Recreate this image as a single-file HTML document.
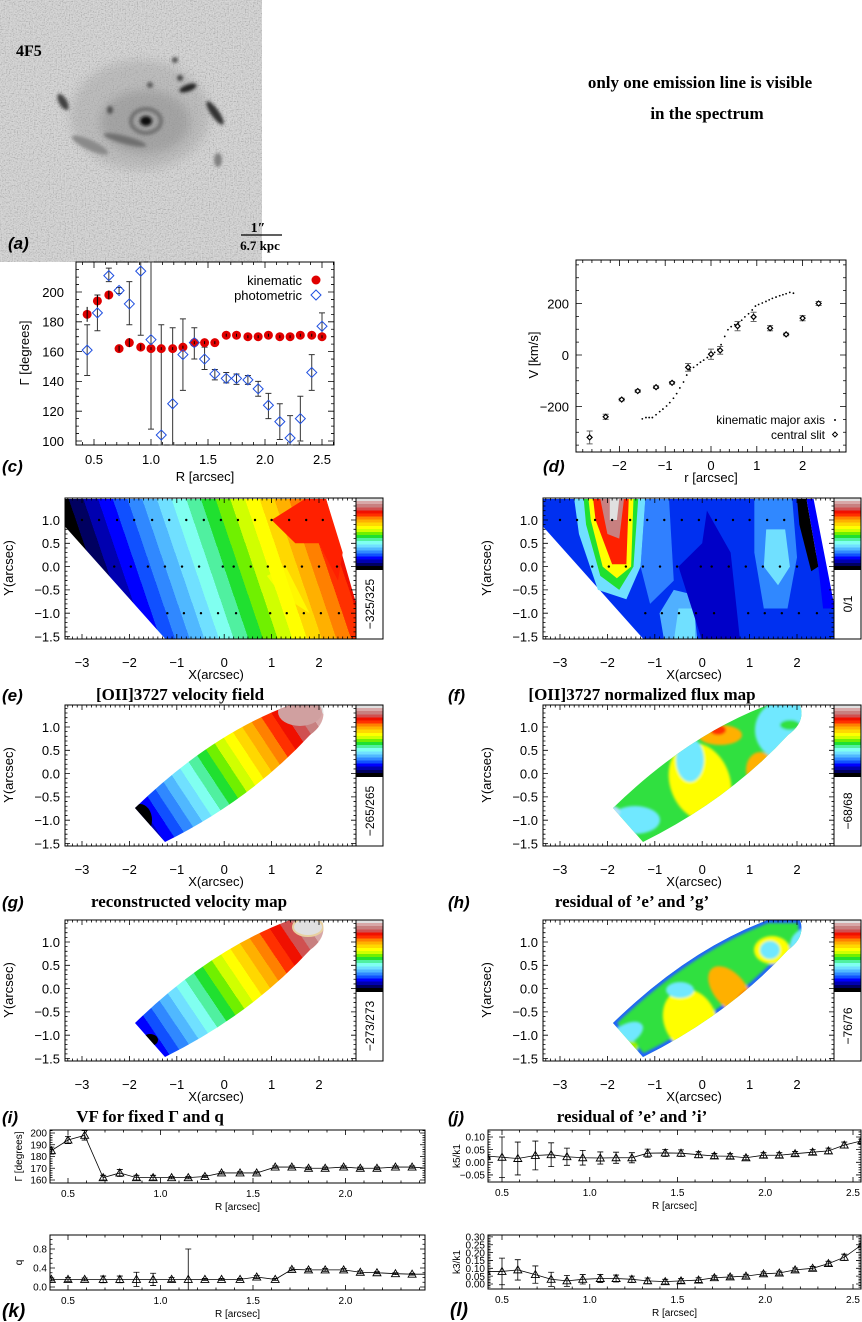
<!DOCTYPE html>
<html><head><meta charset="utf-8">
<style>
html,body{margin:0;padding:0;background:#fff;}
svg{display:block;}
text{font-family:"Liberation Sans",sans-serif;fill:#000;}
.ser{font-family:"Liberation Serif",serif;font-weight:bold;}
.lab{font-family:"Liberation Sans",sans-serif;font-weight:bold;font-style:italic;}
</style></head>
<body>
<svg id="fig" width="862" height="1322" viewBox="0 0 862 1322">
<defs>
<filter id="noise" x="0" y="0" width="100%" height="100%"><feTurbulence type="fractalNoise" baseFrequency="0.75" numOctaves="1" seed="3"/><feColorMatrix type="saturate" values="0"/><feComponentTransfer><feFuncR type="linear" slope="3.5" intercept="-1.25"/><feFuncG type="linear" slope="3.5" intercept="-1.25"/><feFuncB type="linear" slope="3.5" intercept="-1.25"/><feFuncA type="linear" slope="0" intercept="1"/></feComponentTransfer></filter>
<filter id="blur4"><feGaussianBlur stdDeviation="5"/></filter>
<filter id="blur2"><feGaussianBlur stdDeviation="1.6"/></filter>
<filter id="blur1"><feGaussianBlur stdDeviation="1.2"/></filter>
</defs>
</svg>
<script>
// ---------- data ----------
const cR = [0.44,0.53,0.63,0.72,0.81,0.91,1.00,1.09,1.19,1.28,1.38,1.47,1.56,1.66,1.75,1.85,1.94,2.03,2.13,2.22,2.31,2.41,2.50];
const cKin = [185,194,198,162,166,163,162,162,162,163,166,166,166,171,171,170,170,171,170,170,171,171,170];
const cKinErr = [5,4,3,2,3,2,1,1,1,1,1,1,1,1,1,1,1,1,1,1,1,1,1];
const cPhot = [161,186,211,201,192,214,168,104,125,158,166,155,145,142,142,141,135,124,113,102,115,146,177];
const cPhotLo = [144,174,207,199,178,171,108,90,90,134,155,148,141,139,138,138,130,115,101,95,100,134,170];
const cPhotHi = [178,198,216,203,207,230,230,178,176,182,176,163,148,146,145,144,140,132,125,117,130,158,186];

const dSlitR = [-2.65,-2.3,-1.95,-1.6,-1.2,-0.85,-0.5,0.0,0.2,0.58,0.93,1.29,1.64,2.0,2.35];
const dSlitV = [-320,-240,-173,-140,-125,-108,-48,3,18,112,148,104,80,143,200];
const dSlitErr = [25,10,5,5,5,5,15,20,15,18,18,10,5,10,8];
const dKinR = [-1.5,-1.42,-1.35,-1.28,-1.2,-1.12,-1.05,-0.97,-0.9,-0.82,-0.75,-0.68,-0.6,-0.53,-0.46,-0.38,-0.3,-0.23,-0.16,-0.08,0.0,0.08,0.15,0.22,0.3,0.37,0.44,0.52,0.6,0.67,0.74,0.82,0.9,0.97,1.04,1.12,1.2,1.27,1.34,1.42,1.5,1.57,1.64,1.72,1.8];
const dKinV = [-248,-243,-243,-243,-232,-220,-210,-198,-185,-168,-150,-128,-105,-78,-58,-48,-38,-28,-20,-10,0,10,22,40,72,98,110,118,125,135,148,160,175,190,196,202,208,214,220,225,230,234,238,243,240];

const bR = [0.41,0.50,0.59,0.69,0.78,0.87,0.96,1.06,1.15,1.24,1.33,1.43,1.52,1.62,1.71,1.80,1.89,1.99,2.08,2.17,2.27,2.36,2.45,2.55];
const kGam = [185,194,198,162,166,162,162,162,162,163,166,166,166,171,171,170,170,171,170,170,171,171,170,170];
const kGamErr = [3,3,4,2,3,2,2,1,1,1,1,1,1,1,1,1,1,1,1,1,1,1,1,1];
const kQ = [0.16,0.16,0.16,0.16,0.16,0.16,0.16,0.16,0.16,0.16,0.16,0.16,0.21,0.16,0.37,0.36,0.36,0.36,0.31,0.30,0.28,0.27,0.27,0.27];
const kQErr = [0.03,0.04,0.03,0.07,0.07,0.15,0.13,0.04,0.64,0.02,0.02,0.02,0.03,0.02,0.03,0.03,0.03,0.03,0.03,0.02,0.02,0.02,0.02,0.02];
const k5 = [0.025,0.02,0.015,0.027,0.03,0.022,0.018,0.017,0.018,0.018,0.036,0.037,0.036,0.03,0.025,0.024,0.018,0.028,0.028,0.034,0.04,0.045,0.068,0.085];
const k5Err = [0.005,0.08,0.065,0.057,0.047,0.034,0.029,0.024,0.022,0.02,0.016,0.014,0.013,0.012,0.01,0.01,0.008,0.01,0.01,0.009,0.01,0.011,0.012,0.01];
const k3 = [0.08,0.08,0.09,0.06,0.03,0.02,0.03,0.035,0.035,0.03,0.02,0.015,0.02,0.025,0.04,0.045,0.05,0.065,0.07,0.09,0.10,0.13,0.17,0.25];
const k3Err = [0.01,0.085,0.065,0.055,0.045,0.035,0.03,0.025,0.022,0.02,0.018,0.015,0.015,0.015,0.012,0.012,0.012,0.012,0.012,0.012,0.012,0.015,0.02,0.01];

const mapRow1X = [-3.0,-2.64,-2.26,-1.9,-1.52,-1.16,-0.8,-0.43,-0.07,0.29,0.65,1.0,1.37,1.73,2.08];
const mapRow0X = [-2.32,-1.97,-1.61,-1.25,-0.89,-0.53,-0.03,0.2,0.56,0.92,1.28,1.64,2.0,2.38];
const mapRowM1X = [-1.2,-0.85,-0.49,-0.13,0.25,0.97,1.32,1.68,2.04,2.42];
const mapXTicks = [-3,-2,-1,0,1,2];
const mapYTicks = [-1.5,-1.0,-0.5,0.0,0.5,1.0];

// ---------- helpers ----------
const svg = document.getElementById('fig');
const NS = svg.namespaceURI;
function mk(tag, attrs, parent){ const e=document.createElementNS(NS,tag); for(const k in attrs) e.setAttribute(k,attrs[k]); (parent||svg).appendChild(e); return e; }
function tx(x,y,s,attrs,parent){ const e=mk('text',Object.assign({x:x,y:y},attrs||{}),parent); e.textContent=s; return e; }
function grp(name){ const g=mk('g',{});   return g; }

function axes(g,o){
  const {L,R,T,B,sx,sy}=o;
  mk('rect',{x:L,y:T,width:R-L,height:B-T,fill:'none',stroke:'#000','stroke-width':1},g);
  const ml=o.major||6, mn=o.minor||3;
  let d='';
  o.xmin.forEach(v=>{const x=sx(v); if(x>=L&&x<=R) d+=`M${x},${B}v${-mn}M${x},${T}v${mn}`;});
  o.ymin.forEach(v=>{const y=sy(v); if(y>=T&&y<=B) d+=`M${L},${y}h${mn}M${R},${y}h${-mn}`;});
  o.xt.forEach(v=>{const x=sx(v); d+=`M${x},${B}v${-ml}M${x},${T}v${ml}`;});
  o.yt.forEach(v=>{const y=sy(v); d+=`M${L},${y}h${ml}M${R},${y}h${-ml}`;});
  mk('path',{d:d,stroke:'#000','stroke-width':0.8,fill:'none'},g);
  const fs=o.fs||13;
  o.xt.forEach((v,i)=>{const t=tx(sx(v),o.xly,o.xl[i],{'font-size':fs,'text-anchor':'middle'},g);
     });
  o.yt.forEach((v,i)=>{const t=tx(o.ylx,sy(v)+fs*0.37,o.yl[i],{'font-size':fs,'text-anchor':'end'},g);
     });
}
function range(a,b,s){const r=[];for(let v=a;v<=b+1e-9;v+=s)r.push(+v.toFixed(4));return r;}

// ---------- panel a : galaxy image ----------
(function(){
  const g=grp('galaxy-image');
  mk('rect',{x:0,y:0,width:262,height:262,fill:'#d2d2d2'},g);
  mk('rect',{x:0,y:0,width:262,height:262,filter:'url(#noise)',opacity:0.14},g);
  const b=mk('g',{filter:'url(#blur4)'},g);
  mk('ellipse',{cx:140,cy:115,rx:70,ry:55,fill:'#a0a0a0',opacity:0.45},b);
  mk('ellipse',{cx:145,cy:122,rx:45,ry:32,fill:'#888',opacity:0.45},b);
  const b2=mk('g',{filter:'url(#blur2)'},g);
  mk('ellipse',{cx:146,cy:121,rx:6,ry:5,fill:'#101010'},b2);
  mk('ellipse',{cx:146,cy:121,rx:15,ry:12,fill:'none',stroke:'#5a5a5a',"stroke-width":4,opacity:0.7},b2);
  mk('ellipse',{cx:63,cy:102,rx:4,ry:9,fill:'#404040',transform:'rotate(-30 63 102)'},b2);
  mk('ellipse',{cx:188,cy:88,rx:9,ry:3.5,fill:'#202020',transform:'rotate(-20 188 88)'},b2);
  mk('ellipse',{cx:215,cy:113,rx:4,ry:14,fill:'#303030',transform:'rotate(-35 215 113)'},b2);
  mk('ellipse',{cx:175,cy:60,rx:3,ry:3,fill:'#505050'},b2);
  mk('ellipse',{cx:180,cy:78,rx:3,ry:3,fill:'#404040'},b2);
  mk('ellipse',{cx:110,cy:110,rx:3,ry:4,fill:'#505050'},b2);
  mk('ellipse',{cx:150,cy:85,rx:3,ry:3,fill:'#555'},b2);
  mk('ellipse',{cx:125,cy:140,rx:22,ry:4,fill:'#707070',transform:'rotate(15 125 140)'},b2);
  mk('ellipse',{cx:218,cy:160,rx:4,ry:7,fill:'#808080'},b2);
  mk('ellipse',{cx:90,cy:145,rx:20,ry:5,fill:'#8a8a8a',transform:'rotate(25 90 145)'},b2);
  const t=tx(16,56,'4F5',{'font-size':16,class:'ser'},g);
   
  const a=tx(8,249,'(a)',{'font-size':17,class:'lab'},g);
   
  mk('line',{x1:241,y1:235,x2:282,y2:235,stroke:'#000','stroke-width':1.2},g);
  tx(258,232,'1\u2033',{'font-size':14,class:'ser','text-anchor':'middle'},g);
  tx(260,250,'6.7 kpc',{'font-size':13,class:'ser','text-anchor':'middle'},g);
})();

// ---------- panel b : note ----------
(function(){
  const g=grp('panel-b-note');
  tx(700,88,'only one emission line is visible',{'font-size':17,class:'ser','text-anchor':'middle'},g);
  tx(707,119,'in the spectrum',{'font-size':17,class:'ser','text-anchor':'middle'},g);
})();

// ---------- panel c ----------
(function(){
  const g=grp('panel-c-position-angle');
  const L=76,R=334,T=262,B=445;
  const sx=v=>94+(v-0.5)*114, sy=v=>441-(v-100)*1.49;
  axes(g,{L,R,T,B,sx,sy,xt:[0.5,1.0,1.5,2.0,2.5],xl:['0.5','1.0','1.5','2.0','2.5'],yt:[100,120,140,160,180,200],yl:['100','120','140','160','180','200'],
    xmin:range(0.4,2.6,0.1),ymin:range(100,215,5),xly:464,ylx:64,fs:13});
  const cl=v=>Math.max(T,Math.min(B,v));
  cR.forEach((r,i)=>{
    const e=mk('line',{x1:sx(r),x2:sx(r),y1:cl(sy(cPhotLo[i])),y2:cl(sy(cPhotHi[i])),stroke:'#333','stroke-width':1},g);
     
    mk('path',{d:`M${sx(r)-3},${cl(sy(cPhotLo[i]))}h6M${sx(r)-3},${cl(sy(cPhotHi[i]))}h6`,stroke:'#333'},g);
  });
  cR.forEach((r,i)=>{
    const c=mk('circle',{cx:sx(r),cy:sy(cKin[i]),r:4.5,fill:'#e00000'},g);
     
    mk('line',{x1:sx(r),x2:sx(r),y1:sy(cKin[i]-cKinErr[i]),y2:sy(cKin[i]+cKinErr[i]),stroke:'#000','stroke-width':1},g);
  });
  cR.forEach((r,i)=>{
    const x=sx(r),y=sy(cPhot[i]);
    const p=mk('path',{d:`M${x},${y-5}L${x+5},${y}L${x},${y+5}L${x-5},${y}Z`,fill:'none',stroke:'#2050e0','stroke-width':1},g);
     
  });
  const l1=tx(302,285,'kinematic',{'font-size':13,'text-anchor':'end'},g);
   
  mk('circle',{cx:316,cy:280,r:4.5,fill:'#e00000'},g);
  const l2=tx(302,300,'photometric',{'font-size':13,'text-anchor':'end'},g);
   
  mk('path',{d:'M316,290L321,295L316,300L311,295Z',fill:'none',stroke:'#2050e0'},g);
  tx(205,481,'R [arcsec]',{'font-size':13,'text-anchor':'middle'},g);
  tx(0,0,'\u0393 [degrees]',{'font-size':13,'text-anchor':'middle',transform:'translate(29,353) rotate(-90)'},g);
  const a=tx(2,472,'(c)',{'font-size':17,class:'lab'},g);
   
})();

// ---------- panel d ----------
(function(){
  const g=grp('panel-d-rotation-curve');
  const L=576,R=846,T=260,B=452;
  const sx=v=>711+v*45.8, sy=v=>355-v*0.2575;
  axes(g,{L,R,T,B,sx,sy,xt:[-2,-1,0,1,2],xl:['\u22122','\u22121','0','1','2'],yt:[-200,0,200],yl:['\u2212200','0','200'],
    xmin:range(-2.8,2.8,0.2),ymin:range(-350,350,50),xly:470,ylx:569,fs:13});
  dKinR.forEach((r,i)=>{
    const c=mk('circle',{cx:sx(r),cy:sy(dKinV[i]),r:0.9,fill:'#000'},g);
     
  });
  dSlitR.forEach((r,i)=>{
    const x=sx(r),y=sy(dSlitV[i]),e=dSlitErr[i]*0.2575;
    mk('path',{d:`M${x},${y-e}V${y+e}M${x-3},${y-e}h6M${x-3},${y+e}h6`,stroke:'#666','stroke-width':1},g);
    const p=mk('path',{d:`M${x},${y-2.5}L${x+2.5},${y}L${x},${y+2.5}L${x-2.5},${y}Z`,fill:'#fff',stroke:'#000','stroke-width':1.2},g);
     
  });
  const l1=tx(825,424,'kinematic major axis',{'font-size':12,'text-anchor':'end'},g);
   
  mk('circle',{cx:835,cy:420,r:1,fill:'#000'},g);
  const l2=tx(825,439,'central slit',{'font-size':12,'text-anchor':'end'},g);
   
  mk('path',{d:'M835,432L837.5,434.5L835,437L832.5,434.5Z',fill:'none',stroke:'#000'},g);
  tx(711,482,'r [arcsec]',{'font-size':13,'text-anchor':'middle'},g);
  tx(0,0,'V [km/s]',{'font-size':13,'text-anchor':'middle',transform:'translate(538,355) rotate(-90)'},g);
  const a=tx(543,472,'(d)',{'font-size':17,class:'lab'},g);
   
})();

// ---------- maps ----------
const jet=['#000000','#000060','#0000b0','#0000ff','#1050ff','#3088ff','#50b8ff','#70e0ff','#80fff0','#50f0a0','#20e030','#70f000','#d0ff00','#ffff00','#ffd800','#ffb000','#ff8000','#ff3000','#f01000','#d05050','#c88080','#d8a8a8','#e0e0e0'];
let gid=0;
function bandGrad(x1,y1,x2,y2,lo,hi){
  const id='gr'+(gid++); const defs=svg.querySelector('defs');
  const lg=mk('linearGradient',{id:id,gradientUnits:'userSpaceOnUse',x1,y1,x2,y2},defs);
  const cols=jet.slice(lo,hi+1); const n=cols.length;
  cols.forEach((c,i)=>{mk('stop',{offset:i/n,'stop-color':c},lg);mk('stop',{offset:(i+1)/n,'stop-color':c},lg);});
  return 'url(#'+id+')';
}
function colorbar(g,x,y,label){
  const id='cb'+(gid++); const defs=svg.querySelector('defs');
  const lg=mk('linearGradient',{id:id,x1:0,y1:1,x2:0,y2:0},defs);
  const n=jet.length;
  jet.forEach((c,i)=>{mk('stop',{offset:i/n,'stop-color':c},lg);mk('stop',{offset:(i+1)/n,'stop-color':c},lg);});
  const r=mk('rect',{x:x,y:y,width:27,height:71,fill:'url(#'+id+')'},g);
   
  mk('rect',{x:x,y:y,width:27,height:141,fill:'none',stroke:'#000'},g);
  mk('line',{x1:x,x2:x+27,y1:y+71,y2:y+71,stroke:'#000','stroke-width':2},g);
  const t=tx(0,0,label,{'font-size':12,'text-anchor':'middle',transform:`translate(${x+18},${y+106}) rotate(-90)`},g);
   
}
function mapPanel(name,ox,oy,cbLabel,letter,title,titleX,draw){
  const g=grp(name);
  const sx=v=>ox+17+(v+3)*47.4, sy=v=>oy+22+(1-v)*46.6;
  const L=ox,R=ox+291,T=oy,B=oy+141;
  const cid='clip'+(gid++); const cp=mk('clipPath',{id:cid},svg.querySelector('defs'));
  mk('rect',{x:L,y:T,width:R-L,height:B-T},cp);
  const inner=mk('g',{'clip-path':'url(#'+cid+')'},g);
  draw(inner,sx,sy);
  axes(g,{L,R,T,B,sx,sy,xt:mapXTicks,xl:['\u22123','\u22122','\u22121','0','1','2'],yt:mapYTicks,yl:['\u22121.5','\u22121.0','\u22120.5','0.0','0.5','1.0'],
    xmin:range(-3.3,2.8,0.1),ymin:range(-1.5,1.4,0.1),xly:oy+169,ylx:ox-5,fs:13,major:5,minor:2.5});
  colorbar(g,R,T,cbLabel);
  tx(ox+151,oy+181,'X(arcsec)',{'font-size':13,'text-anchor':'middle'},g);
  tx(0,0,'Y(arcsec)',{'font-size':13,'text-anchor':'middle',transform:`translate(${ox-52},${oy+70}) rotate(-90)`},g);
  const a=tx(ox>300?448:2,oy+203,letter,{'font-size':17,class:'lab'},g);
   
  const t=tx(titleX,oy+202,title,{'font-size':17,class:'ser','text-anchor':'middle'},g);
   
  return {g,sx,sy};
}
function poly(g,sx,sy,pts,fill,extra){ const d=pts.map(p=>sx(p[0])+','+sy(p[1])).join(' '); return mk('polygon',Object.assign({points:d,fill:fill},extra||{}),g); }
function dots(g,sx,sy){
  [[1.0,mapRow1X],[0.0,mapRow0X],[-1.0,mapRowM1X]].forEach(([y,xs])=>xs.forEach(x=>{
    const c=mk('circle',{cx:sx(x),cy:sy(y),r:1.2,fill:'#000'},g);
     
  }));
}
const lensD=(ox,oy)=>`M${ox+70},${oy+103} Q${ox+145},${oy+30} ${ox+225},${oy} L${ox+257},${oy} Q${ox+263},${oy+17} ${ox+245},${oy+30} Q${ox+185},${oy+95} ${ox+100},${oy+137} Z`;
function lensClip(ox,oy){ const id='lc'+(gid++); const cp=mk('clipPath',{id:id},svg.querySelector('defs')); mk('path',{d:lensD(ox,oy)},cp); return 'url(#'+id+')'; }

// e
mapPanel('panel-e-velocity-field',65,498,'\u2212325/325','(e)','[OII]3727 velocity field',180,(g,sx,sy)=>{
  const region=[[-3.35,1.45],[2.15,1.45],[2.8,-0.85],[2.8,-1.6],[-1.2,-1.6],[-3.35,0.85]];
  poly(g,sx,sy,region,bandGrad(85,590,335,505,0,18));
  poly(g,sx,sy,[[1.7,1.45],[2.15,1.45],[2.5,0.3],[2.4,-0.3],[2.0,0.5],[1.5,0.5],[1.0,1.0]],'#ff2000');
  poly(g,sx,sy,[[0.9,-0.2],[1.2,-0.6],[1.8,-1.0],[1.3,0.0]],'#ffff00',{opacity:0.8});
  dots(g,sx,sy);
});
// f
mapPanel('panel-f-flux-map',543,498,'0/1','(f)','[OII]3727 normalized flux map',642,(g,sx,sy)=>{
  const region=[[-3.35,1.45],[2.0,1.45],[2.8,-0.9],[2.8,-1.6],[-1.2,-1.6],[-3.35,0.85]];
  poly(g,sx,sy,region,'#0030f0');
  poly(g,sx,sy,[[-1.2,1.45],[-0.7,1.45],[-0.6,-0.3],[-1.1,-0.8],[-1.3,0.0]],'#3080ff');
  poly(g,sx,sy,[[-0.6,-0.5],[-0.2,-0.6],[-0.1,-1.6],[-0.8,-1.6],[-0.9,-1.0]],'#50b0ff');
  poly(g,sx,sy,[[-0.5,-0.9],[-0.15,-0.9],[-0.15,-1.6],[-0.6,-1.6]],'#70e0ff');
  poly(g,sx,sy,[[1.1,1.45],[1.9,1.45],[2.0,0.2],[1.8,-0.9],[1.3,-0.9],[1.1,0.3]],'#3088ff');
  poly(g,sx,sy,[[1.35,0.8],[1.75,0.8],[1.85,0.0],[1.6,-0.4],[1.3,0.0]],'#70e0ff');
  poly(g,sx,sy,[[-0.5,0.0],[0.0,0.5],[0.1,1.2],[0.6,0.3],[0.8,-1.6],[0.0,-1.6]],'#0000c8');
  poly(g,sx,sy,[[-2.7,1.45],[-1.2,1.45],[-1.3,0.0],[-1.6,-0.7],[-2.2,-0.5],[-2.6,0.7]],'#70e0ff');
  poly(g,sx,sy,[[-2.5,1.45],[-1.35,1.45],[-1.45,0.0],[-1.75,-0.5],[-2.15,-0.2],[-2.45,0.9]],'#20e030');
  poly(g,sx,sy,[[-2.4,1.45],[-1.45,1.45],[-1.5,0.0],[-1.8,-0.25],[-2.1,0.0],[-2.35,1.0]],'#ffff00');
  poly(g,sx,sy,[[-2.3,1.45],[-1.55,1.45],[-1.6,0.05],[-1.9,0.05],[-2.25,1.0]],'#ff2000');
  poly(g,sx,sy,[[-2.15,1.45],[-1.65,1.45],[-1.75,0.6],[-2.0,0.7]],'#c88080');
  poly(g,sx,sy,[[-1.95,1.45],[-1.75,1.45],[-1.8,1.0],[-1.95,1.0]],'#e0e0e0');
  poly(g,sx,sy,[[2.0,1.45],[2.2,1.45],[2.45,0.0],[2.3,-0.1],[2.05,0.9]],'#000000');
  poly(g,sx,sy,[[2.2,1.45],[2.35,1.45],[2.8,-0.9],[2.55,-0.9],[2.45,0.0]],'#0000ff');
  dots(g,sx,sy);
});
// g
mapPanel('panel-g-reconstructed-velocity',65,705,'\u2212265/265','(g)','reconstructed velocity map',189,(g,sx,sy)=>{
  const p=mk('path',{d:lensD(65,705),fill:bandGrad(125,840,330,705,0,22)},g);
  
  const cg=mk('g',{'clip-path':lensClip(65,705)},g);
  mk('ellipse',{cx:300,cy:712,rx:22,ry:14,fill:'#d0a0a0'},cg);
  mk('ellipse',{cx:140,cy:820,rx:12,ry:16,fill:'#000'},cg);
});
// h
mapPanel('panel-h-residual-e-g',543,705,'\u221268/68','(h)','residual of \u2019e\u2019 and \u2019g\u2019',632,(g,sx,sy)=>{
  const p=mk('path',{d:lensD(543,705),fill:'#30e040'},g);
  
  const cg=mk('g',{'clip-path':lensClip(543,705),filter:'url(#blur1)'},g);
  mk('ellipse',{cx:700,cy:782,rx:30,ry:40,fill:'#ffff00',transform:'rotate(-20 700 782)'},cg);
  mk('ellipse',{cx:690,cy:760,rx:14,ry:22,fill:'#70e8ff'},cg);
  mk('ellipse',{cx:760,cy:770,rx:14,ry:18,fill:'#ffb000'},cg);
  mk('ellipse',{cx:765,cy:778,rx:9,ry:10,fill:'#ff2000'},cg);
  mk('ellipse',{cx:720,cy:735,rx:22,ry:10,fill:'#ffb000'},cg);
  mk('ellipse',{cx:718,cy:730,rx:8,ry:5,fill:'#ff3000'},cg);
  mk('ellipse',{cx:785,cy:730,rx:30,ry:30,fill:'#70e8ff'},cg);
  mk('ellipse',{cx:790,cy:725,rx:10,ry:5,fill:'#30e040'},cg);
  mk('ellipse',{cx:635,cy:820,rx:25,ry:14,fill:'#70e8ff'},cg);
  mk('ellipse',{cx:612,cy:812,rx:8,ry:6,fill:'#b0e0ff'},cg);
});
// i
mapPanel('panel-i-fixed-vf',65,920,'\u2212273/273','(i)','VF for fixed \u0393 and q',150,(g,sx,sy)=>{
  const p=mk('path',{d:lensD(65,920),fill:bandGrad(130,1055,330,920,1,22)},g);
  
  const cg=mk('g',{'clip-path':lensClip(65,920)},g);
  mk('ellipse',{cx:308,cy:927,rx:15,ry:9,fill:'#e0e0e0',stroke:'#e8d0a0','stroke-width':2},cg);
  mk('ellipse',{cx:150,cy:1040,rx:8,ry:6,fill:'#000'},cg);
});
// j
mapPanel('panel-j-residual-e-i',543,920,'\u221276/76','(j)','residual of \u2019e\u2019 and \u2019i\u2019',632,(g,sx,sy)=>{
  const p=mk('path',{d:lensD(543,920),fill:'#30e040'},g);
  
  const cg=mk('g',{'clip-path':lensClip(543,920),filter:'url(#blur1)'},g);
  mk('path',{d:lensD(543,920),fill:'none',stroke:'#2060ff','stroke-width':6},cg);
  mk('ellipse',{cx:690,cy:1020,rx:26,ry:32,fill:'#ffff00',transform:'rotate(-25 690 1020)'},cg);
  mk('ellipse',{cx:730,cy:990,rx:16,ry:28,fill:'#ffb000',transform:'rotate(-40 730 990)'},cg);
  mk('ellipse',{cx:750,cy:997,rx:14,ry:8,fill:'#ff2000',transform:'rotate(-30 750 997)'},cg);
  mk('ellipse',{cx:772,cy:950,rx:18,ry:14,fill:'#ffff00'},cg);
  mk('ellipse',{cx:770,cy:950,rx:10,ry:9,fill:'#70e8ff'},cg);
  mk('ellipse',{cx:812,cy:945,rx:22,ry:18,fill:'#70e8ff'},cg);
  mk('ellipse',{cx:625,cy:1035,rx:20,ry:10,fill:'#70e8ff',transform:'rotate(-30 625 1035)'},cg);
  mk('ellipse',{cx:630,cy:1047,rx:8,ry:6,fill:'#a0f000'},cg);
  mk('ellipse',{cx:680,cy:990,rx:14,ry:8,fill:'#70e8ff'},cg);
});

// ---------- bottom panels ----------
function tri(g,x,y){ const p=mk('path',{d:`M${x},${y-4}L${x+4},${y+3}L${x-4},${y+3}Z`,fill:'none',stroke:'#000','stroke-width':0.9},g);   }
function profile(name,L,R,T,B,sx,sy,vals,errs,yt,yl,ymin,xt,xl,ylab,letter){
  const g=grp(name);
  const cid='bc'+(gid++); const cp=mk('clipPath',{id:cid},svg.querySelector('defs'));
  mk('rect',{x:L,y:T,width:R-L,height:B-T},cp);
  const inner=mk('g',{'clip-path':'url(#'+cid+')'},g);
  axes(g,{L,R,T,B,sx,sy,xt:xt,xl:xl,yt:yt,yl:yl,xmin:range(0.3,2.6,0.1),ymin:ymin,xly:B+14,ylx:L-3,fs:10,major:5,minor:2.5});
  const line=mk('polyline',{points:bR.map((r,i)=>sx(r)+','+sy(vals[i])).join(' '),fill:'none',stroke:'#000','stroke-width':0.8},inner);
   
  bR.forEach((r,i)=>{
    const x=sx(r),y1=sy(vals[i]-errs[i]),y2=sy(vals[i]+errs[i]);
    mk('path',{d:`M${x},${y1}V${y2}M${x-3},${y1}h6M${x-3},${y2}h6`,stroke:'#000','stroke-width':0.8},inner);
    tri(inner,x,sy(vals[i]));
  });
  tx((L+R)/2,B+27,'R [arcsec]',{'font-size':10,'text-anchor':'middle'},g);
  tx(0,0,ylab,{'font-size':10,'text-anchor':'middle',transform:`translate(${L-28},${(T+B)/2}) rotate(-90)`},g);
  if(letter){ const a=tx(L>300?450:2,B+27,letter,{'font-size':19,class:'lab'},g);   }
}
const xsL=v=>68+(v-0.5)*185, xsR=v=>502+(v-0.5)*175.5;
profile('panel-gamma-profile',50,425,1130,1183,xsL,v=>1133+(200-v)*1.175,kGam,kGamErr,[160,170,180,190,200],['160','170','180','190','200'],range(160,205,2),[0.5,1.0,1.5,2.0],['0.5','1.0','1.5','2.0'],'\u0393 [degrees]',null);
profile('panel-k-q-profile',50,425,1235,1290,xsL,v=>1287-v*47.5,kQ,kQErr,[0.0,0.4,0.8],['0.0','0.4','0.8'],range(0,1.1,0.1),[0.5,1.0,1.5,2.0],['0.5','1.0','1.5','2.0'],'q','(k)');
profile('panel-k5-profile',488,861,1130,1182,xsR,v=>1137+(0.10-v)*253,k5,k5Err,[-0.05,0.0,0.05,0.10],['\u22120.05','0.00','0.05','0.10'],range(-0.07,0.13,0.01),[0.5,1.0,1.5,2.0,2.5],['0.5','1.0','1.5','2.0','2.5'],'k5/k1',null);
profile('panel-l-k3-profile',488,861,1235,1289,xsR,v=>1284-v*157,k3,k3Err,[0,0.05,0.10,0.15,0.20,0.25,0.30],['0.00','0.05','0.10','0.15','0.20','0.25','0.30'],range(-0.02,0.32,0.01),[0.5,1.0,1.5,2.0,2.5],['0.5','1.0','1.5','2.0','2.5'],'k3/k1','(l)');
</script>
</body></html>
